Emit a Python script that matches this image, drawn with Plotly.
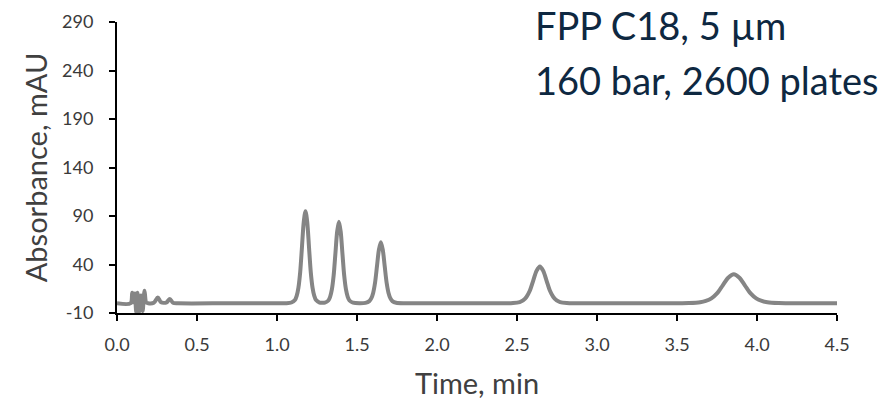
import plotly.graph_objects as go

# Chromatogram trace (time in min, absorbance in mAU)
time_min = [
    0.000, 0.085, 0.095, 0.104, 0.112, 0.120, 0.128, 0.138, 0.150, 0.160, 0.172, 0.182, 0.195,
    0.230, 0.255, 0.275, 0.310, 0.330, 0.350, 0.380, 0.700, 1.000, 1.060,
    1.090, 1.112, 1.123, 1.134, 1.145, 1.156, 1.167, 1.178, 1.189, 1.200, 1.211, 1.222, 1.233, 1.244, 1.266,
    1.283,
    1.299, 1.321, 1.332, 1.343, 1.354, 1.365, 1.376, 1.387, 1.398, 1.409, 1.420, 1.431, 1.442, 1.453, 1.475,
    1.515,
    1.553, 1.577, 1.589, 1.601, 1.613, 1.625, 1.637, 1.649, 1.661, 1.673, 1.685, 1.697, 1.709, 1.721, 1.745,
    1.800, 2.000, 2.200, 2.433,
    2.475, 2.517, 2.538, 2.559, 2.580, 2.601, 2.622, 2.643, 2.664, 2.685, 2.706, 2.727, 2.748, 2.769, 2.811,
    2.853, 3.200, 3.505,
    3.575, 3.645, 3.680, 3.715, 3.750, 3.785, 3.820, 3.855, 3.890, 3.925, 3.960, 3.995, 4.030, 4.065, 4.135,
    4.205, 4.500,
]
absorbance_mau = [
    0.0, 0.0, 11.0, 1.0, 10.0, -9.0, 11.0, -9.0, 8.0, -8.0, 13.0, 1.0, 0.0,
    0.5, 6.0, 1.0, 1.0, 4.5, 0.5, 0.0, 0.0, 0.0, 0.0,
    0.8, 3.3, 7.6, 16.2, 32.3, 58.0, 83.6, 95.0, 83.6, 58.0, 32.3, 16.2, 7.6, 3.3, 0.8,
    0.5,
    0.7, 2.9, 6.7, 14.3, 28.6, 51.2, 73.9, 84.0, 73.9, 51.2, 28.6, 14.3, 6.7, 2.9, 0.7,
    0.1,
    0.5, 2.2, 5.0, 10.7, 21.4, 38.4, 55.4, 63.0, 55.4, 38.4, 21.4, 10.7, 5.0, 2.2, 0.5,
    0.0, 0.0, 0.0, 0.0,
    0.3, 1.3, 3.0, 6.5, 12.9, 23.2, 33.4, 38.0, 33.4, 23.2, 12.9, 6.5, 3.0, 1.3, 0.3,
    0.0, 0.0, 0.0,
    0.2, 1.05, 2.4, 5.1, 10.2, 18.3, 26.4, 30.0, 26.4, 18.3, 10.2, 5.1, 2.4, 1.05, 0.2,
    0.0, 0.0,
]

x_ticks = [0.0, 0.5, 1.0, 1.5, 2.0, 2.5, 3.0, 3.5, 4.0, 4.5]
x_tick_labels = ["0.0", "0.5", "1.0", "1.5", "2.0", "2.5", "3.0", "3.5", "4.0", "4.5"]
y_ticks = [-10, 40, 90, 140, 190, 240, 290]
y_tick_labels = ["-10", "40", "90", "140", "190", "240", "290"]

note_lines = ["FPP C18, 5 µm", "160 bar, 2600 plates"]

FONT = "Lato"
fig = go.Figure()
fig.add_trace(go.Scatter(
    x=time_min, y=absorbance_mau, mode="lines",
    line=dict(color="#858585", width=4, shape="spline", smoothing=0.8),
    showlegend=False, hoverinfo="skip",
))

fig.update_layout(
    width=885, height=404,
    margin=dict(l=117, r=48, t=22, b=91),
    paper_bgcolor="white", plot_bgcolor="white",
    font=dict(family=FONT, color="#404040"),
    xaxis=dict(
        range=[0, 4.5], tickvals=x_ticks, ticktext=x_tick_labels,
        showline=True, linecolor="black", linewidth=2,
        ticks="outside", ticklen=6, tickwidth=2, tickcolor="black",
        showgrid=False, zeroline=False, automargin=False,
        tickfont=dict(family=FONT, size=18, color="#3a3a3a"),
        ticklabelstandoff=8,
        title=dict(text="Time, min", font=dict(family=FONT, size=29, color="#404040"), standoff=20),
    ),
    yaxis=dict(
        range=[-10, 290], tickvals=y_ticks, ticktext=y_tick_labels,
        showline=True, linecolor="black", linewidth=2,
        ticks="outside", ticklen=6, tickwidth=2, tickcolor="black",
        showgrid=False, zeroline=False, automargin=False,
        tickfont=dict(family=FONT, size=18, color="#3a3a3a"),
        ticklabelstandoff=12,
        title=dict(text="Absorbance, mAU", font=dict(family=FONT, size=29, color="#404040"), standoff=6),
    ),
)

for i, txt in enumerate(note_lines):
    fig.add_annotation(
        xref="paper", yref="paper", x=(533 - 117) / 720, y=[0.990, 0.80][i],
        xanchor="left", yanchor="middle", text=txt, showarrow=False,
        font=dict(family=FONT, size=38, color="#0E2841"),
    )

fig.write_html("out.html")
